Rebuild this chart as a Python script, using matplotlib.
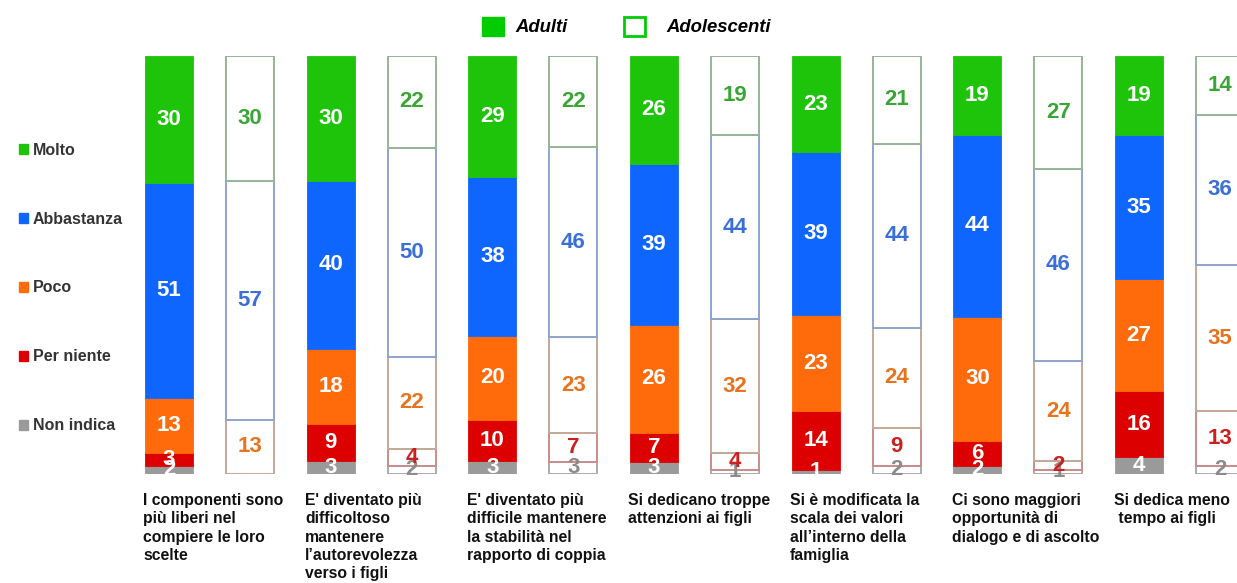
import numpy as np
import matplotlib
matplotlib.use('Agg')
import matplotlib.pyplot as plt
from matplotlib.patches import Patch

plt.rcParams['font.family'] = ['Liberation Sans', 'DejaVu Sans']

# categorie (asse x)
categorie = [
    "I componenti sono\npiù liberi nel\ncompiere le loro\nscelte",
    "E' diventato più\ndifficoltoso\nmantenere\nl\u2019autorevolezza\nverso i figli",
    "E' diventato più\ndifficile mantenere\nla stabilità nel\nrapporto di coppia",
    "Si dedicano troppe\nattenzioni ai figli",
    "Si è modificata la\nscala dei valori\nall\u2019interno della\nfamiglia",
    "Ci sono maggiori\nopportunità di\ndialogo e di ascolto",
    "Si dedica meno\n tempo ai figli",
]
livelli = ['Non indica', 'Per niente', 'Poco', 'Abbastanza', 'Molto']

# Adulti (%)
adulti_non_indica = [2, 3, 3, 3, 1, 2, 4]
adulti_per_niente = [3, 9, 10, 7, 14, 6, 16]
adulti_poco = [13, 18, 20, 26, 23, 30, 27]
adulti_abbastanza = [51, 40, 38, 39, 39, 44, 35]
adulti_molto = [30, 30, 29, 26, 23, 19, 19]

# Adolescenti (%)
adol_non_indica = [0, 2, 3, 1, 2, 1, 2]
adol_per_niente = [0, 4, 7, 4, 9, 2, 13]
adol_poco = [13, 22, 23, 32, 24, 24, 35]
adol_abbastanza = [57, 50, 46, 44, 44, 46, 36]
adol_molto = [30, 22, 22, 19, 21, 27, 14]

colori = ['#9a9a9a', '#dd0000', '#ff6a0a', '#0f66ff', '#1dc40a']
colori_bordo = ['#aaaaaa', '#c88c8c', '#c4a898', '#8fa3cc', '#96b496']
colori_testo = ['#8c8c8c', '#cc1f1f', '#e8731e', '#3a6fd8', '#3aa534']

adulti = np.array([adulti_non_indica, adulti_per_niente, adulti_poco,
                   adulti_abbastanza, adulti_molto], dtype=float)
adol = np.array([adol_non_indica, adol_per_niente, adol_poco,
                 adol_abbastanza, adol_molto], dtype=float)

fig = plt.figure(figsize=(12.37, 5.83), dpi=100)
ax = fig.add_axes([130 / 1237, 109 / 583, 1107 / 1237, 418 / 583])

x = np.arange(len(categorie))
larghezza = 0.297

def disegna(valori, pos, pieno):
    tot = valori.sum(axis=0)
    base = np.zeros(len(pos))
    for k in range(len(livelli)):
        h = valori[k] / tot * 100
        if pieno:
            ax.bar(pos, h, larghezza, bottom=base, color=colori[k],
                   edgecolor=colori[k], linewidth=0.6)
        else:
            ax.bar(pos, h, larghezza, bottom=base, color='white',
                   edgecolor=colori_bordo[k], linewidth=1.4)
        for j in range(len(pos)):
            if valori[k, j] > 0:
                ax.text(pos[j], base[j] + h[j] / 2, f"{int(valori[k, j])}",
                        ha='center', va='center', fontsize=16, fontweight='bold',
                        color='white' if pieno else colori_testo[k],
                        clip_on=False)
        base = base + h

disegna(adulti, x, True)
disegna(adol, x + 0.5, False)

ax.set_xlim(-0.241, 6.605)
ax.set_ylim(0, 100)
ax.axis('off')

# etichette categorie sotto le barre
for i, cat in enumerate(categorie):
    ax.text(i - larghezza / 2 - 0.01, -4.6, cat, ha='left', va='top', fontsize=11.3,
            fontweight='bold', color='#111111', linespacing=1.27, clip_on=False)

# legenda in alto (due voci separate)
y_leg = 1 - 26.5 / 583
font_leg = {'weight': 'bold', 'style': 'italic', 'size': 13.3}
fig.legend([Patch(facecolor='#00cc00', edgecolor='#00cc00')], ['Adulti'],
           loc='center left', bbox_to_anchor=(482 / 1237, y_leg),
           frameon=False, prop=font_leg, borderpad=0, borderaxespad=0,
           handlelength=1.2, handleheight=1.25, handletextpad=0.6)
fig.legend([Patch(facecolor='white', edgecolor='#00cc00', linewidth=2)], ['Adolescenti'],
           loc='center left', bbox_to_anchor=(624 / 1237, y_leg),
           frameon=False, prop=font_leg, borderpad=0, borderaxespad=0,
           handlelength=1.15, handleheight=1.2, handletextpad=1.15)

# legenda a sinistra
maniglie2 = [Patch(facecolor=colori[k], edgecolor=colori[k]) for k in range(4, -1, -1)]
fig.legend(maniglie2, livelli[::-1], loc='center left',
           bbox_to_anchor=(0.004, 1 - 288 / 583), frameon=False,
           prop={'weight': 'bold', 'size': 11.5}, labelcolor='#333333',
           handlelength=0.55, handleheight=0.55, handletextpad=0.3,
           labelspacing=3.38)

fig.savefig('out.png', dpi=100)
